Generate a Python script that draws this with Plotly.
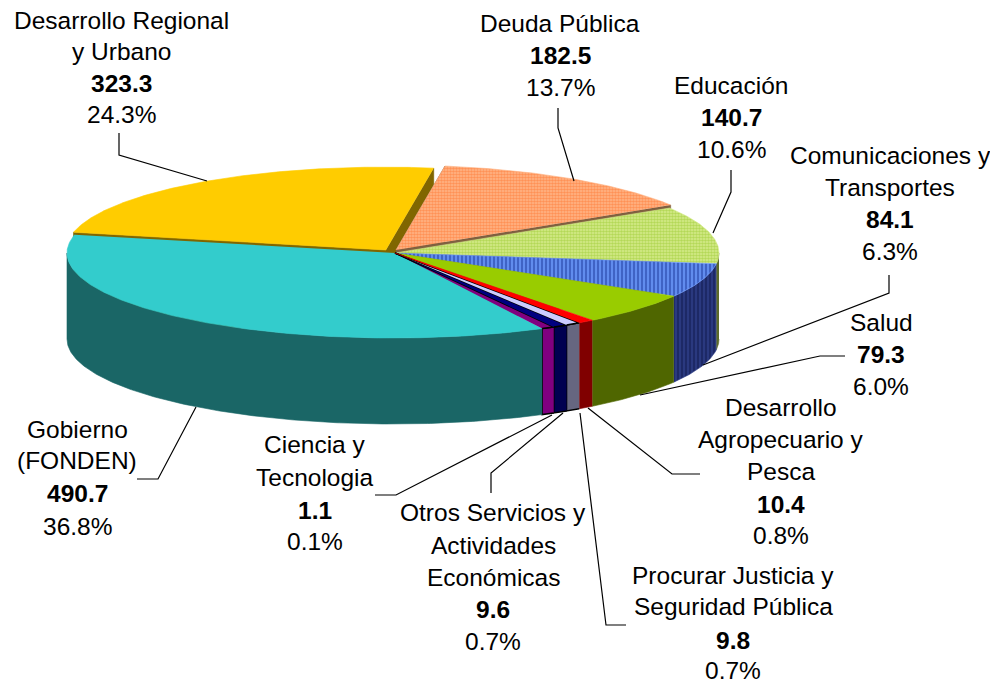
import numpy as np
import plotly.graph_objects as go

categories = ['Deuda Pública', 'Educación', 'Comunicaciones y Transportes', 'Salud',
              'Desarrollo Agropecuario y Pesca', 'Procurar Justicia y Seguridad Pública',
              'Otros Servicios y Actividades Económicas', 'Ciencia y Tecnologia',
              'Gobierno (FONDEN)', 'Desarrollo Regional y Urbano']
values = [182.5, 140.7, 84.1, 79.3, 10.4, 9.8, 9.6, 1.1, 490.7, 323.3]
percents = ['13.7%', '10.6%', '6.3%', '6.0%', '0.8%', '0.7%', '0.7%', '0.1%', '36.8%', '24.3%']

# label text broken the way the picture breaks it
name_lines = [['Deuda Pública'], ['Educación'], ['Comunicaciones y', 'Transportes'], ['Salud'],
              ['Desarrollo', 'Agropecuario y', 'Pesca'], ['Procurar Justicia y', 'Seguridad Pública'],
              ['Otros Servicios y', 'Actividades', 'Económicas'], ['Ciencia y', 'Tecnologia'],
              ['Gobierno', '(FONDEN)'], ['Desarrollo Regional', 'y Urbano']]
label_x = [560, 731, 890, 881, 781, 733, 493, 315, 77, 121]
label_y = [[23, 55, 87], [85, 117, 149], [155, 187, 219, 251], [322, 354, 386],
           [407, 439, 471, 504, 535], [575, 606, 640, 670], [512, 545, 577, 609, 641],
           [444, 477, 510, 541], [429, 460, 493, 526], [20, 51, 83, 114]]
leaders = [[(558, 108), (558, 128), (574, 181)], [(731, 170), (731, 192), (713, 233)],
           [(889, 275), (889, 293), (703, 365)], [(845, 356), (820, 356), (640, 395)],
           [(700, 474), (672, 474), (588, 408)], [(626, 625), (606, 625), (580, 413)],
           [(491, 493), (491, 473), (563, 413)], [(375, 495), (396, 495), (552, 415)],
           [(137, 479), (158, 479), (196, 407)], [(119, 133), (119, 155), (207, 181)]]

top_colors = ['#ffb080', '#d4ea88', '#6f9cff', '#99cc00', '#ff0000', '#ccccff', '#000080', '#800080',
              '#33cccc', '#ffcc00']
wall_colors = ['#806040', '#5c6a2a', '#2a3a86', '#4f6600', '#800000', '#666680', '#000050', '#800080',
               '#1a6666', '#806600']
top_patterns = [dict(shape='.', size=3, solidity=0.6, fgcolor='#ff6a20', bgcolor='#ffb88c'),
                dict(shape='.', size=3, solidity=0.6, fgcolor='#8fc41e', bgcolor='#d8ec90'),
                dict(shape='|', size=4, solidity=0.65, fgcolor='#10298c', bgcolor='#6f9cff'),
                None, None, None, None, None, None, None]
outlined = [False, False, False, False, False, True, True, True, False, False]
# exploded slices: (shift x, shift y, radius scale)
explode = {0: (1, -3, 1.0), 9: (-9, -3, 0.975)}

cx, cy, a, b, depth = 393, 253, 326, 85, 86
start_angle = 9
min_sweep = 2.3


def view_angle(t):
    # the 3D view stretches the front of the pie a little
    return t + 2.8 * np.maximum(0, np.sin(np.radians((t - 60) * 180 / 230))) * (t > 60)


sweeps = np.maximum(np.array(values) / sum(values) * 360, min_sweep)
sweeps = sweeps * 360 / sweeps.sum()
ends = start_angle + np.cumsum(sweeps)
starts = view_angle(ends - sweeps)
ends = view_angle(ends)


def arc(t1, t2, ox=cx, oy=cy, scale=1.0):
    t = np.radians(np.linspace(t1, t2, max(int(abs(t2 - t1)) * 2, 2)))
    return ox + a * scale * np.sin(t), oy - b * scale * np.cos(t)


def add_poly(fig, xs, ys, color, pattern=None, edge=None, width=0.6):
    fig.add_trace(go.Scatter(x=list(xs), y=list(ys), mode='lines', fill='toself',
                             fillcolor=color, fillpattern=pattern,
                             line=dict(color=edge or color, width=width),
                             hoverinfo='skip', showlegend=False))


fig = go.Figure()

# exploded slices go first, their inner walls get covered by whatever is in front
for i in (9, 0):
    dx, dy, scale = explode[i]
    hx, hy = cx + dx + 2, cy + dy
    ax, ay = arc(starts[i], ends[i], cx + dx, cy + dy, scale)
    add_poly(fig, [hx, ax[0], ax[0], hx], [hy, ay[0], ay[0] + depth, hy + depth], wall_colors[i])
    add_poly(fig, [hx, ax[-1], ax[-1], hx], [hy, ay[-1], ay[-1] + depth, hy + depth], wall_colors[i])
    add_poly(fig, np.r_[hx, ax], np.r_[hy, ay], top_colors[i], top_patterns[i])

# outer walls, only the part facing the viewer
for i in range(1, 9):
    t1, t2 = max(starts[i], 90), min(ends[i], 270)
    if t1 >= t2:
        continue
    wx, wy = arc(t1, t2)
    edge = 'black' if outlined[i] else None
    pattern = None
    if i == 2:
        pattern = dict(shape='|', size=4, solidity=0.65, fgcolor='#0c1444', bgcolor='#2f3f88')
    add_poly(fig, np.r_[wx, wx[::-1]], np.r_[wy, wy[::-1] + depth], wall_colors[i], pattern, edge,
             1.5 if outlined[i] else 0.6)

# top faces
for i in [8, 1, 2, 3, 7, 6, 5, 4]:
    ax, ay = arc(starts[i], ends[i])
    edge = 'black' if outlined[i] else None
    add_poly(fig, np.r_[cx + 2, ax], np.r_[cy, ay], top_colors[i], top_patterns[i], edge,
             1.5 if outlined[i] else 0.6)

for pts in leaders:
    fig.add_trace(go.Scatter(x=[p[0] for p in pts], y=[p[1] for p in pts], mode='lines',
                             line=dict(color='black', width=1.2), hoverinfo='skip', showlegend=False))

for i, lines in enumerate(name_lines):
    texts = lines + ['<b>%.1f</b>' % values[i], percents[i]]
    for txt, y in zip(texts, label_y[i]):
        fig.add_annotation(x=label_x[i], y=y, text=txt, showarrow=False,
                           xanchor='center', yanchor='middle',
                           font=dict(family='Liberation Sans', size=24.5, color='black'))

# the page body has an 8px margin, so the axes start at 8 to keep picture coordinates
fig.update_layout(width=998, height=683, margin=dict(l=0, r=0, t=0, b=0), autosize=False,
                  paper_bgcolor='white', plot_bgcolor='white', showlegend=False,
                  xaxis=dict(range=[8, 1006], visible=False, fixedrange=True),
                  yaxis=dict(range=[691, 8], visible=False, fixedrange=True))
fig.write_html("out.html", config={'displayModeBar': False})
